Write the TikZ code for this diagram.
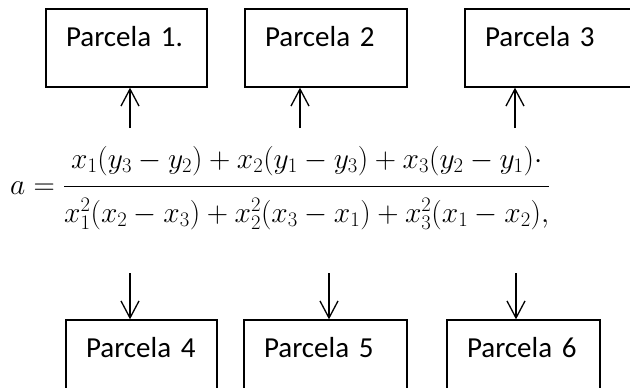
\RequirePackage{fix-cm}
\documentclass[tikz,border=0pt]{standalone}
\usepackage{amsmath}
\usepackage[no-math]{fontspec}
\usepackage{tikz}
\usetikzlibrary{arrows.meta}
\newfontfamily\parcelafont{Carlito}

\begin{document}
\begin{tikzpicture}[
    x=1pt, y=-1pt,
    parcela/.style={draw, rectangle, line width=1.3pt, inner xsep=20pt,
        text width=#1, align=left, minimum height=78pt,
        text height=20pt, text depth=23pt,
        font=\parcelafont\fontsize{29}{34}\selectfont},
    arr/.style={line width=1.3pt, -{Straight Barb[length=17pt, width=18pt]}}
]

    % ==========================================
    % FRAME
    % ==========================================
    \useasboundingbox (0,0) rectangle (630,388);
    \clip (0,0) rectangle (630,388);

    % ==========================================
    % COORDINATES
    % ==========================================
    % Arrow tails above the formula
    \coordinate (up_one)   at (130,128);
    \coordinate (up_two)   at (300,128);
    \coordinate (up_three) at (515,128);

    % Arrow tails below the formula
    \coordinate (down_four)  at (130,273);
    \coordinate (down_five)  at (329,273);
    \coordinate (down_six)   at (516,273);


    % ==========================================
    % TOP ROW: PARCELAS 1-3
    % ==========================================
    \node[parcela=121pt] (parcela_one)   at (126.5,48) {Parcela 1.};
    \node[parcela=122pt] (parcela_two)   at (326,48)   {Parcela 2};
    \node[parcela=140pt] (parcela_three) at (555,48)   {Parcela 3};


    % ==========================================
    % FORMULA
    % ==========================================
    \node[anchor=base west, inner sep=0pt, font=\fontsize{29.5}{36}\selectfont]
        (formula) at (10,194)
        {$a=\dfrac{\rule[-15pt]{0pt}{15pt}x_1(y_3-y_2)+x_2(y_1-y_3)+x_3(y_2-y_1)\cdot}
                  {\rule{0pt}{32pt}x_1^2(x_2-x_3)+x_2^2(x_3-x_1)+x_3^2(x_1-x_2),}$};


    % ==========================================
    % BOTTOM ROW: PARCELAS 4-6
    % ==========================================
    \node[parcela=111pt] (parcela_four) at (141.5,359) {Parcela 4};
    \node[parcela=123pt] (parcela_five) at (325.5,359) {Parcela 5};
    \node[parcela=113pt] (parcela_six)  at (523.5,359) {Parcela 6};


    % ==========================================
    % ARROWS
    % ==========================================
    \draw[arr] (up_one)   -- (up_one   |- parcela_one.south);
    \draw[arr] (up_two)   -- (up_two   |- parcela_two.south);
    \draw[arr] (up_three) -- (up_three |- parcela_three.south);

    \draw[arr] (down_four) -- (down_four |- parcela_four.north);
    \draw[arr] (down_five) -- (down_five |- parcela_five.north);
    \draw[arr] (down_six)  -- (down_six  |- parcela_six.north);

\end{tikzpicture}
\end{document}
